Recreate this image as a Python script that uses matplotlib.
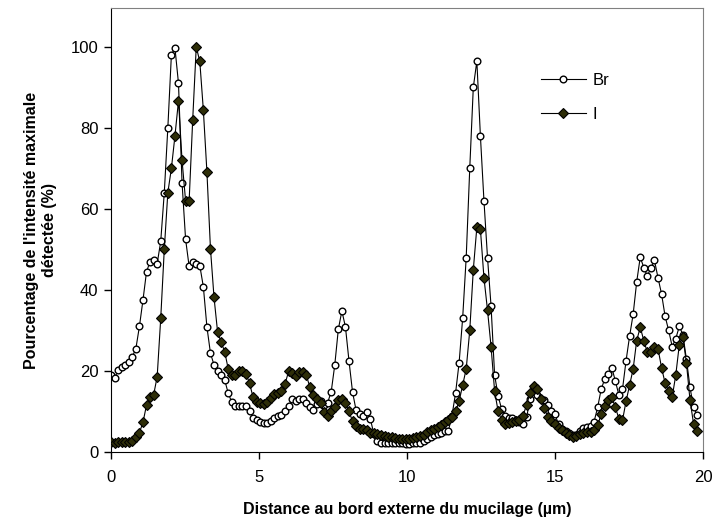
import numpy as np
import matplotlib
matplotlib.use("Agg")
import matplotlib.pyplot as plt

plt.rcParams['font.family'] = ['Liberation Sans', 'DejaVu Sans']

# sampling step along the profile (µm)
step_um = 0.12

# Br profile (% of max intensity)
br_values = [
    19.0, 18.2, 20.2, 21.0, 21.4, 22.3, 23.5, 25.5, 31.0, 37.5,
    44.5, 47.0, 47.4, 46.5, 52.0, 64.0, 80.0, 98.0, 99.8, 91.0,
    66.5, 52.5, 45.8, 46.8, 46.5, 46.0, 40.8, 30.9, 24.4, 21.5,
    20.0, 19.0, 17.8, 14.5, 12.3, 11.4, 11.4, 11.4, 11.4, 10.0,
    8.5, 7.9, 7.5, 7.2, 7.2, 7.6, 8.3, 8.9, 9.2, 10.0,
    11.3, 13.0, 12.7, 13.2, 13.1, 12.2, 11.0, 10.4, 11.8, 12.7,
    11.6, 12.2, 14.9, 21.5, 30.3, 34.8, 30.9, 22.5, 14.8, 10.3,
    9.3, 8.9, 9.9, 8.2, 4.5, 2.8, 2.3, 2.2, 2.2, 2.2,
    2.1, 2.1, 2.1, 2.0, 2.0, 2.1, 2.1, 2.3, 2.7, 3.2,
    3.7, 4.1, 4.5, 4.8, 5.3, 5.3, 9.0, 14.5, 22.0, 33.0,
    48.0, 70.0, 90.0, 96.5, 78.0, 62.0, 48.0, 36.0, 19.0, 13.8,
    10.5, 8.8, 8.4, 8.4, 8.0, 7.4, 7.0, 8.6, 13.0, 15.6,
    14.0, 13.2, 12.8, 11.5, 10.2, 9.3, 6.8, 5.8, 5.3, 4.6,
    4.1, 4.3, 5.2, 5.9, 6.1, 6.4, 7.5, 11.0, 15.5, 18.0,
    19.2, 20.8, 17.5, 14.0, 15.5, 22.5, 28.6, 34.0, 42.0, 48.1,
    45.5, 43.4, 45.5, 47.3, 43.0, 39.0, 33.5, 30.0, 26.0, 28.0,
    31.0, 29.0, 22.9, 16.0, 11.0, 9.2,
]

# I profile (% of max intensity)
i_values = [
    2.5, 2.3, 2.5, 2.5, 2.5, 2.5, 2.8, 3.6, 4.8, 7.3,
    11.6, 13.7, 14.1, 18.6, 33.0, 50.0, 64.0, 70.0, 78.0, 86.7,
    72.0, 62.0, 62.0, 82.0, 100.0, 96.4, 84.4, 69.2, 50.2, 38.2,
    29.7, 27.1, 24.8, 20.5, 19.0, 19.0, 20.0, 20.1, 19.3, 17.0,
    13.5, 12.4, 12.1, 11.8, 12.4, 13.4, 14.2, 14.5, 15.0, 16.8,
    19.9, 19.6, 18.7, 19.7, 19.8, 18.9, 16.0, 14.1, 13.2, 12.0,
    9.8, 9.0, 10.0, 11.0, 12.9, 13.1, 12.0, 10.0, 7.6, 6.3,
    5.8, 5.8, 5.4, 4.6, 4.7, 4.5, 4.2, 4.0, 3.8, 3.6,
    3.4, 3.3, 3.2, 3.1, 3.2, 3.4, 3.6, 3.9, 4.3, 4.9,
    5.5, 5.8, 6.2, 6.7, 7.3, 7.9, 8.6, 10.0, 12.5, 16.5,
    20.5, 30.0, 45.0, 55.5, 55.0, 43.0, 35.0, 26.0, 15.0, 10.0,
    7.8, 6.8, 7.1, 7.5, 7.7, 8.0, 9.0, 11.6, 14.6, 16.2,
    15.6, 13.0, 10.8, 8.6, 7.6, 6.8, 6.0, 5.4, 4.8, 4.1,
    3.7, 4.0, 4.5, 4.8, 4.9, 4.9, 5.4, 6.6, 9.3, 11.4,
    12.9, 13.5, 11.0, 8.2, 7.8, 12.5, 16.5, 20.5, 27.5, 30.8,
    27.5, 24.6, 24.6, 26.0, 25.5, 20.8, 17.0, 15.0, 13.6, 19.0,
    26.5, 28.4, 22.0, 12.9, 7.0, 5.3,
]

distance = np.arange(len(br_values)) * step_um

x_ticks = [0, 5, 10, 15, 20]
y_ticks = [0, 20, 40, 60, 80, 100]

fig = plt.figure(figsize=(7.14, 5.26), dpi=100)
ax = fig.add_axes([111 / 714, 1 - 452 / 526, 592 / 714, 444 / 526])

ax.plot(distance, br_values, color='black', lw=0.8, marker='o', markersize=4.8,
        markerfacecolor='white', markeredgecolor='black', markeredgewidth=1.0,
        label='Br', zorder=2)
ax.plot(distance, i_values, color='black', lw=0.8, marker='D', markersize=4.6,
        markerfacecolor='#2e2e08', markeredgecolor='black', markeredgewidth=0.8,
        label='I', zorder=3)

ax.set_xlim(0, 20)
ax.set_ylim(0, 109.6)
ax.set_xticks(x_ticks)
ax.set_yticks(y_ticks)
ax.tick_params(direction='out', length=5, width=1, labelsize=12, pad=4)
ax.tick_params(axis='x', pad=8)

ax.spines['top'].set_color('#808080')
ax.spines['right'].set_color('#808080')
for side in ['left', 'bottom']:
    ax.spines[side].set_color('black')

ax.set_xlabel('Distance au bord externe du mucilage (µm)', fontsize=11.5,
              fontweight='bold', labelpad=12)
ax.set_ylabel("Pourcentage de l'intensité maximale\ndétectée (%)", fontsize=11.5,
              fontweight='bold', labelpad=10)

ax.legend(loc='upper left', bbox_to_anchor=(0.726, 0.853), frameon=False,
          fontsize=12, handlelength=2.7, labelspacing=1.1, borderpad=0,
          borderaxespad=0, handletextpad=0.4)

fig.savefig('out.png', dpi=100)
